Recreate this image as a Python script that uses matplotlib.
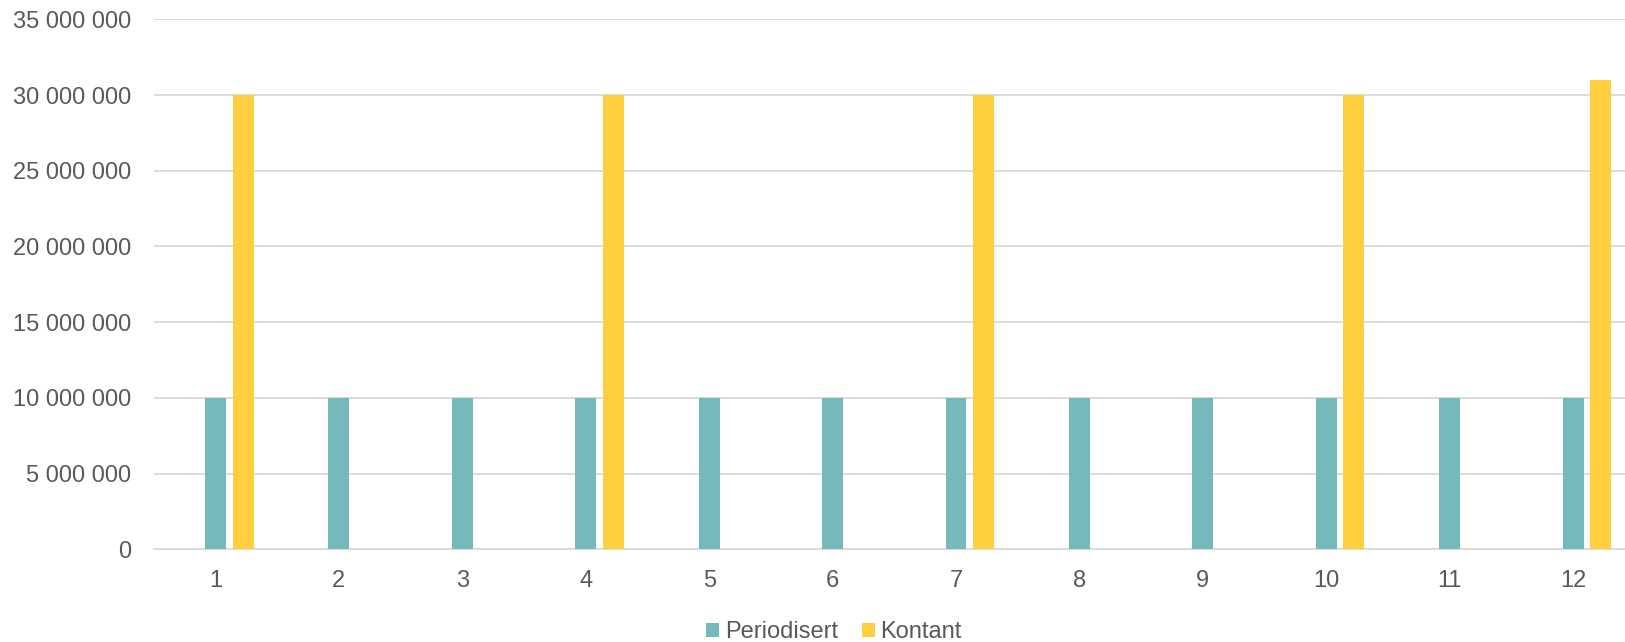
import matplotlib
matplotlib.use("Agg")
import matplotlib.pyplot as plt
import numpy as np
from matplotlib.ticker import FuncFormatter

categories = ["1", "2", "3", "4", "5", "6", "7", "8", "9", "10", "11", "12"]
periodisert = [10e6] * 12
kontant = [30e6, 0, 0, 30e6, 0, 0, 30e6, 0, 0, 30e6, 0, 31e6]

plt.rcParams['font.family'] = ['Liberation Sans', 'DejaVu Sans']
W, H = 1625, 642
fig = plt.figure(figsize=(W / 100, H / 100), dpi=100)
ax = fig.add_axes([153.8 / W, (H - 549.3) / H, 1481 / W, (549.3 - 19.3) / H])

x = np.arange(1, 13)
w = 0.17
ax.bar(x, periodisert, width=w, color='#76B9BA', label='Periodisert', zorder=3)
ax.bar(x + 0.223, kontant, width=w, color='#FFCF3F', label='Kontant', zorder=3)

ax.set_xlim(0.5, 12.5)
ax.set_ylim(0, 35e6)
ax.set_yticks(np.arange(0, 35e6 + 1, 5e6))
ax.yaxis.set_major_formatter(FuncFormatter(lambda v, p: f"{int(v):,}".replace(",", " ")))
ax.set_xticks(x)
ax.set_xticklabels(categories)
ax.grid(axis='y', color='#D9D9D9', linewidth=1.3, zorder=0)
for s in ['top', 'right', 'left']:
    ax.spines[s].set_visible(False)
ax.spines['bottom'].set_color('#D9D9D9')
ax.spines['bottom'].set_linewidth(1.3)
ax.tick_params(axis='both', length=0, labelsize=17, colors='#595959')
ax.tick_params(axis='y', pad=16)
ax.tick_params(axis='x', pad=15)

leg = fig.legend(loc='center', bbox_to_anchor=(834 / W, (H - 632) / H), ncol=2, frameon=False,
                 fontsize=17, handlelength=0.55, handleheight=0.55, handletextpad=0.25,
                 columnspacing=1.0, borderaxespad=0, borderpad=0)
for t in leg.get_texts():
    t.set_color('#595959')

fig.savefig('out.png', dpi=100)
